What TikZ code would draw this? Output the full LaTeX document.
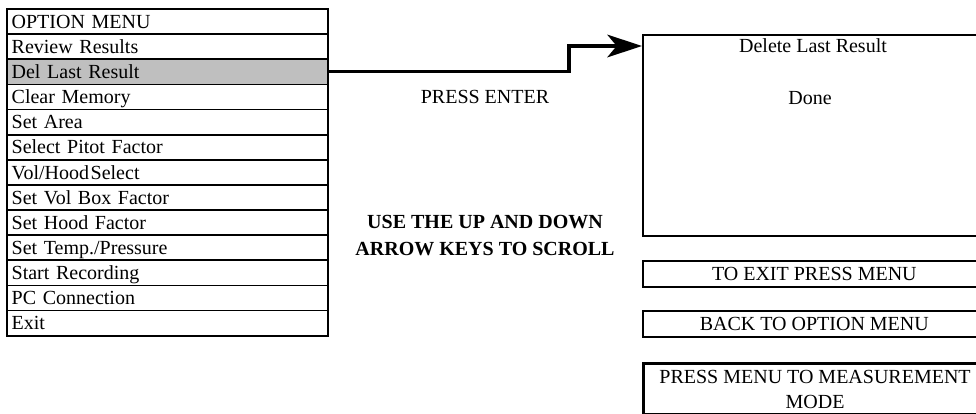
\documentclass[tikz,border=0pt]{standalone}
\usepackage{fontspec}
\setmainfont{Liberation Serif}
\usetikzlibrary{arrows.meta, positioning}

\begin{document}
\begin{tikzpicture}[
  x=0.75pt, y=-0.75pt,
  menurow/.style={rectangle, draw, line width=1.3pt, outer sep=0pt, minimum height=18.85pt, text width=233.75pt, inner xsep=3.5pt, inner ysep=0pt, text height=14.4pt, text depth=4.4pt, align=left},
  sidebox/.style={rectangle, draw, line width=1.5pt, minimum width=257pt, minimum height=19.3pt, inner sep=0pt, text height=10pt, text depth=0pt, align=center, anchor=north west},
  note/.style={inner sep=0pt, text height=10pt, text depth=0pt, align=center},
  arr/.style={-{Stealth[length=26pt, width=17pt, inset=7pt]}, line width=2.4pt},
  font=\fontsize{15pt}{19.3pt}\selectfont
]
\useasboundingbox (0,0) rectangle (976,414);
% option menu
\node[menurow, anchor=north west] (r1) at (7,9) {OPTION MENU};
\node[menurow, below=0pt of r1] (r2) {Review Results};
\node[menurow, below=0pt of r2, fill=black!25] (r3) {Del Last Result};
\node[menurow, below=0pt of r3] (r4) {Clear Memory};
\node[menurow, below=0pt of r4] (r5) {Set Area};
\node[menurow, below=0pt of r5] (r6) {Select Pitot Factor};
\node[menurow, below=0pt of r6] (r7) {Vol/Hood\hspace{0.08em}Select};
\node[menurow, below=0pt of r7] (r8) {Set Vol Box Factor};
\node[menurow, below=0pt of r8] (r9) {Set Hood Factor};
\node[menurow, below=0pt of r9] (r10) {Set Temp./Pressure};
\node[menurow, below=0pt of r10] (r11) {Start Recording};
\node[menurow, below=0pt of r11] (r12) {PC Connection};
\node[menurow, below=0pt of r12] (r13) {Exit};
% middle texts
\node[note] (enter) at (485,97) {PRESS ENTER};
\node[note, text height=30.3pt, font=\fontsize{15pt}{20.3pt}\selectfont\bfseries] (scroll) at (485,235.3) {USE THE UP AND DOWN\\ARROW KEYS TO SCROLL};
% result screen
\node[sidebox, minimum height=150.75pt] (screen) at (642,34) {};
\node[note] (title) at (813,46) {Delete Last Result};
\node[note] (done) at (810,98) {Done};
\node[sidebox] (exit) at (642,260) {TO EXIT PRESS MENU};
\node[sidebox] (back) at (642,310) {BACK TO OPTION MENU};
\node[sidebox, line width=2.6pt, minimum height=38.3pt, text height=29.3pt] (mode) at (642,362) {PRESS MENU TO MEASUREMENT\\MODE};
% arrow
\coordinate (bend) at (569,46);
\draw[arr] (r3.east) -| (bend) -- (screen.west |- bend);
\end{tikzpicture}
\end{document}
